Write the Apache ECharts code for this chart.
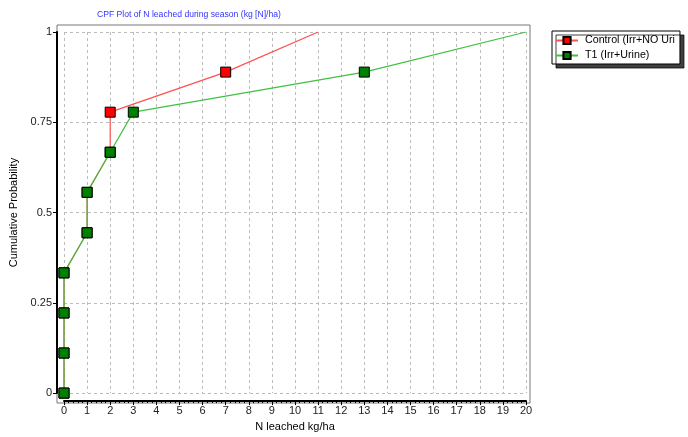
<!DOCTYPE html>
<html><head><meta charset="utf-8">
<script src="https://cdn.jsdelivr.net/npm/echarts@6/dist/echarts.min.js"></script>
<style>html,body{margin:0;padding:0;background:#fff}#c{width:688px;height:437px}</style>
</head><body><div id="c"></div>
<script>
var seriesNames = ['Control (Irr+NO Uri', 'T1 (Irr+Urine)'];
var controlX = [0, 0, 0, 0, 1, 1, 2, 2, 7, 11];
var t1X = [0, 0, 0, 0, 1, 1, 2, 3, 13, 20];
var probs = [0, 0.111, 0.222, 0.333, 0.444, 0.556, 0.667, 0.778, 0.889, 1];
var xTicks = {min: 0, max: 20, interval: 1};
var yTicks = {min: 0, max: 1, interval: 0.25};

function build(xs) {
  return xs.map(function (x, i) {
    var d = {value: [x, probs[i]]};
    if (i === xs.length - 1) d.symbol = 'none';
    return d;
  });
}
var font = 'Liberation Sans, Arial, sans-serif';
var chart = echarts.init(document.getElementById('c'), null, {renderer: 'canvas'});
chart.setOption({
  backgroundColor: '#fff',
  animation: false,
  title: {
    text: 'CPF Plot of N leached during season (kg [N]/ha)',
    left: 92, top: 5,
    textStyle: {color: '#3333ff', fontSize: 8.6, fontWeight: 'normal', fontFamily: font}
  },
  legend: {
    orient: 'vertical', left: 552, top: 31,
    padding: [4, 5, 3, 3], itemGap: 4, itemWidth: 22, itemHeight: 9,
    borderColor: '#000', borderWidth: 1, backgroundColor: '#fff',
    shadowColor: 'rgba(0,0,0,0.75)', shadowOffsetX: 4, shadowOffsetY: 4, shadowBlur: 0,
    textStyle: {fontSize: 10.7, color: '#000', fontFamily: font, padding: [0, 0, 0, 2]},
    data: seriesNames
  },
  grid: [
    {left: 64, right: 162, top: 32, bottom: 42},
    {left: 57, right: 158, top: 25, bottom: 34, show: true, borderColor: '#777', borderWidth: 1, backgroundColor: 'transparent'}
  ],
  xAxis: [{
    type: 'value', gridIndex: 0,
    min: xTicks.min, max: xTicks.max, interval: xTicks.interval,
    offset: 8,
    name: 'N leached kg/ha', nameLocation: 'middle', nameGap: 18,
    nameTextStyle: {fontSize: 11, color: '#000', fontFamily: font},
    axisLine: {onZero: false, lineStyle: {color: '#000', width: 2}},
    axisTick: {length: 4, lineStyle: {color: '#000'}},
    minorTick: {show: true, splitNumber: 5, length: 2, lineStyle: {color: '#000'}},
    axisLabel: {fontSize: 11, color: '#222', margin: 4, fontFamily: font},
    splitLine: {show: true, lineStyle: {color: '#bbb', type: [3, 3]}}
  }, {
    type: 'value', gridIndex: 1, show: false, min: 0, max: 1
  }],
  yAxis: [{
    type: 'value', gridIndex: 0,
    min: yTicks.min, max: yTicks.max, interval: yTicks.interval,
    offset: 7,
    name: 'Cumulative Probability', nameLocation: 'middle', nameGap: 36,
    nameTextStyle: {fontSize: 11, color: '#000', fontFamily: font},
    axisLine: {onZero: false, lineStyle: {color: '#000', width: 2}},
    axisTick: {length: 4, lineStyle: {color: '#000'}},
    axisLabel: {fontSize: 11, color: '#222', margin: 5, fontFamily: font},
    splitLine: {show: true, lineStyle: {color: '#bbb', type: [3, 3]}}
  }, {
    type: 'value', gridIndex: 1, show: false, min: 0, max: 1
  }],
  series: [{
    name: seriesNames[0], type: 'line', xAxisIndex: 0, yAxisIndex: 0,
    data: build(controlX),
    symbol: 'rect', symbolSize: 10,
    itemStyle: {color: '#ff0000', borderColor: '#000', borderWidth: 1},
    lineStyle: {color: '#ff5050', width: 1.2}
  }, {
    name: seriesNames[1], type: 'line', xAxisIndex: 0, yAxisIndex: 0,
    data: build(t1X),
    symbol: 'rect', symbolSize: 10,
    itemStyle: {color: '#008000', borderColor: '#000', borderWidth: 1},
    lineStyle: {color: '#40c040', width: 1.2}
  }]
});
</script></body></html>
